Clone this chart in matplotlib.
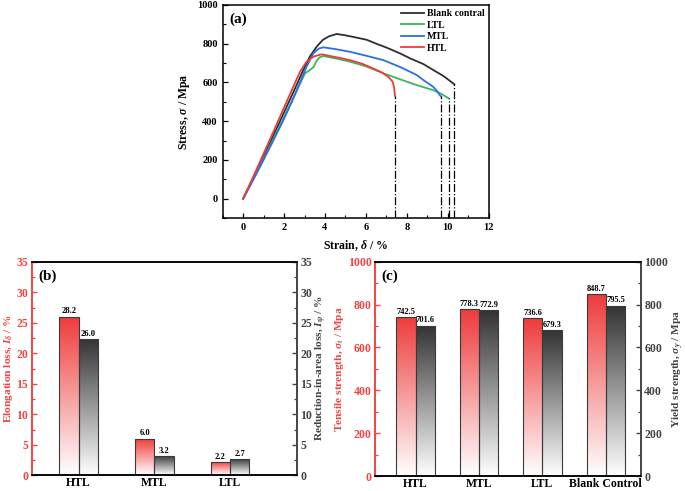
import numpy as np
import matplotlib
matplotlib.use("Agg")
import matplotlib.pyplot as plt
from matplotlib.colors import LinearSegmentedColormap
from matplotlib.ticker import MultipleLocator

plt.rcParams['font.family'] = ['Liberation Serif', 'DejaVu Serif']
plt.rcParams['font.weight'] = 'bold'
plt.rcParams['mathtext.fontset'] = 'custom'
plt.rcParams['mathtext.rm'] = 'Liberation Serif:bold'
plt.rcParams['mathtext.it'] = 'Liberation Serif:italic:bold'
plt.rcParams['mathtext.bf'] = 'Liberation Serif:bold'
plt.rcParams['axes.unicode_minus'] = False

# ---------------- data: panel (a) stress-strain curves ----------------
blank_x = [0, 0.5, 1.0, 1.5, 2.0, 2.5, 2.94, 3.26, 3.59, 3.9, 4.2, 4.57, 5.0, 5.5, 6.04,
           6.5, 7.0, 7.66, 8.2, 8.8, 9.29, 9.8, 10.2, 10.32]
blank_y = [0, 105, 215, 330, 445, 560, 664, 733, 784, 820, 838, 850, 843, 832, 820,
           800, 780, 750, 722, 695, 664, 632, 600, 590]
ltl_x = [0, 0.5, 1.0, 1.5, 2.0, 2.5, 3.02, 3.26, 3.45, 3.59, 3.75, 3.92, 4.5, 5.22, 6.0,
         6.85, 7.7, 8.48, 9.29, 9.7, 10.05]
ltl_y = [0, 102, 206, 312, 420, 530, 646, 664, 680, 712, 730, 736, 724, 707, 683,
         647, 615, 586, 560, 540, 517]
mtl_x = [0, 0.5, 1.0, 1.5, 2.0, 2.4, 2.78, 3.1, 3.43, 3.7, 3.92, 4.5, 5.22, 6.0, 6.85,
         7.7, 8.48, 8.9, 9.29, 9.5, 9.62, 9.67]
mtl_y = [0, 98, 200, 305, 412, 505, 600, 681, 750, 775, 781, 772, 758, 738, 715,
         678, 638, 605, 577, 552, 533, 528]
htl_x = [0, 0.5, 1.0, 1.5, 2.0, 2.4, 2.78, 3.1, 3.43, 3.84, 4.3, 4.8, 5.22, 5.8, 6.36,
         6.8, 7.09, 7.31, 7.38, 7.42]
htl_y = [0, 115, 232, 350, 470, 565, 655, 707, 733, 745, 735, 725, 715, 697, 672,
         650, 629, 603, 570, 530]
curve_names = ['Blank contral', 'LTL', 'MTL', 'HTL']

# ---------------- data: panel (b) ----------------
b_cats = ['HTL', 'MTL', 'LTL']
elong_loss = [26.0, 6.0, 2.2]
elong_text = ['28.2', '6.0', '2.2']
area_loss = [22.3, 3.2, 2.7]
area_text = ['26.0', '3.2', '2.7']

# ---------------- data: panel (c) ----------------
c_cats = ['HTL', 'MTL', 'LTL', 'Blank Control']
tensile = [742.5, 778.3, 736.6, 848.7]
yield_s = [701.6, 772.9, 679.3, 795.5]

RED = '#ee3b3b'
RED_TXT = '#f04545'
DARK = '#333333'
GRAY = '#444444'

fig = plt.figure(figsize=(6.85, 4.91), dpi=100)

# ---------------- panel (a) ----------------
axa = fig.add_axes([0.325, 0.556, 0.3885, 0.434])
curves = [(blank_x, blank_y, '#2e2e2e'), (ltl_x, ltl_y, '#3db55a'),
          (mtl_x, mtl_y, '#2a6fe6'), (htl_x, htl_y, '#f03a3a')]
for (xs, ys, c), name in zip(curves, curve_names):
    axa.plot(xs, ys, color=c, lw=1.3, label=name)
for xs, ys, c in curves:
    axa.vlines(xs[-1], -100, ys[-1], colors='black', linestyles='-.', lw=0.9)
axa.set_xlim(-1, 12)
axa.set_ylim(-100, 1000)
axa.xaxis.set_major_locator(MultipleLocator(2))
axa.xaxis.set_minor_locator(MultipleLocator(1))
axa.yaxis.set_major_locator(MultipleLocator(200))
axa.yaxis.set_minor_locator(MultipleLocator(100))
axa.tick_params(which='both', direction='in', top=False, right=False, labelsize=7.5)
axa.tick_params(which='major', length=3.5, width=0.9)
axa.tick_params(which='minor', length=2, width=0.8)
for s in axa.spines.values():
    s.set_linewidth(1.1)
axa.set_xlabel(r'Strain, $\delta$ / %', fontsize=8.5, fontweight='bold', labelpad=5)
axa.set_ylabel(r'Stress, $\sigma$ / Mpa', fontsize=8.5, fontweight='bold', labelpad=4)
axa.legend(loc='upper right', frameon=False, fontsize=7, handlelength=2.3,
           labelspacing=0.25, borderaxespad=0.05, handletextpad=0.3)
axa.text(0.025, 0.965, '(a)', transform=axa.transAxes, fontsize=11, fontweight='bold',
         va='top', ha='left')


def grad_bars(ax, x, h, w, color):
    bars = ax.bar(x, h, w, facecolor='none', edgecolor='#3a3a3a', lw=0.8, zorder=3)
    cmap = LinearSegmentedColormap.from_list('g', ['#ffffff', color])
    grad = np.linspace(0, 1, 256).reshape(-1, 1)
    for b in bars:
        x0, y0 = b.get_x(), b.get_y()
        ww, hh = b.get_width(), b.get_height()
        im = ax.imshow(grad, extent=[x0, x0 + ww, y0, y0 + hh], origin='lower',
                       cmap=cmap, aspect='auto', zorder=2, interpolation='bilinear')
        im.set_clip_path(b)
    return bars


def style_twin(ax, ax2, ylabel_l, ylabel_r, right_color, padl, padr):
    ax.spines['left'].set_color(RED_TXT)
    ax.spines['left'].set_linewidth(1.4)
    ax.spines['right'].set_visible(False)
    ax2.spines['left'].set_visible(False)
    ax2.spines['right'].set_color(right_color)
    ax2.spines['right'].set_linewidth(1.4)
    for a in (ax, ax2):
        a.spines['top'].set_linewidth(1.1)
        a.spines['bottom'].set_linewidth(1.1)
    ax.tick_params(axis='y', which='both', direction='in', colors=RED_TXT, labelsize=8.5)
    ax2.tick_params(axis='y', which='both', direction='in', colors=right_color, labelsize=8.5)
    for a in (ax, ax2):
        a.tick_params(axis='y', which='major', length=3.5, width=1.0, pad=2.5)
        a.tick_params(axis='y', which='minor', length=2, width=0.9)
    ax.tick_params(axis='x', length=0, labelsize=8.5, pad=1.5)
    ax.set_ylabel(ylabel_l, color=RED_TXT, fontsize=8.2, fontweight='bold', labelpad=padl)
    ax2.set_ylabel(ylabel_r, color=right_color, fontsize=8.2, fontweight='bold', labelpad=padr)


# ---------------- panel (b) ----------------
axb = fig.add_axes([0.0463, 0.032, 0.3869, 0.4348])
axb2 = axb.twinx()
xb = np.arange(1, len(b_cats) + 1)
w = 0.255
grad_bars(axb, xb - w / 2, elong_loss, w, RED)
grad_bars(axb, xb + w / 2, area_loss, w, DARK)
for xi, h, t in zip(xb - w / 2, elong_loss, elong_text):
    axb.text(xi, h + 0.2, t, ha='center', va='bottom', fontsize=6.1, fontweight='bold')
for xi, h, t in zip(xb + w / 2, area_loss, area_text):
    axb.text(xi, h + 0.2, t, ha='center', va='bottom', fontsize=6.1, fontweight='bold')
axb.set_xlim(0.38, 3.88)
axb.set_ylim(0, 35)
axb2.set_ylim(0, 35)
axb.set_xticks(xb)
axb.set_xticklabels(b_cats, fontweight='bold')
for a in (axb, axb2):
    a.yaxis.set_major_locator(MultipleLocator(5))
    a.yaxis.set_minor_locator(MultipleLocator(2.5))
style_twin(axb, axb2, r'Elongation loss, $I_\delta$ / %',
           r'Reduction-in-area loss, $I_\psi$ / %', GRAY, 1, 1)
axb.text(0.025, 0.965, '(b)', transform=axb.transAxes, fontsize=11, fontweight='bold',
         va='top', ha='left')

# ---------------- panel (c) ----------------
axc = fig.add_axes([0.5474, 0.0305, 0.3880, 0.4365])
axc2 = axc.twinx()
xc = np.arange(1, len(c_cats) + 1)
wc = 0.305
grad_bars(axc, xc - wc / 2, tensile, wc, RED)
grad_bars(axc, xc + wc / 2, yield_s, wc, DARK)
for xi, h in zip(xc - wc / 2, tensile):
    axc.text(xi, h + 6, f'{h:.1f}', ha='center', va='bottom', fontsize=6.0, fontweight='bold')
for xi, h in zip(xc + wc / 2, yield_s):
    axc.text(xi, h + 6, f'{h:.1f}', ha='center', va='bottom', fontsize=6.0, fontweight='bold')
axc.set_xlim(0.36, 4.55)
axc.set_ylim(0, 1000)
axc2.set_ylim(0, 1000)
axc.set_xticks(xc)
axc.set_xticklabels(c_cats, fontweight='bold')
for a in (axc, axc2):
    a.yaxis.set_major_locator(MultipleLocator(200))
    a.yaxis.set_minor_locator(MultipleLocator(100))
style_twin(axc, axc2, r'Tensile strength, $\sigma_t$ / Mpa',
           r'Yield strength, $\sigma_y$ / Mpa', GRAY, 1, 2)
axc.text(0.025, 0.965, '(c)', transform=axc.transAxes, fontsize=11, fontweight='bold',
         va='top', ha='left')

fig.savefig('out.png', dpi=100)
